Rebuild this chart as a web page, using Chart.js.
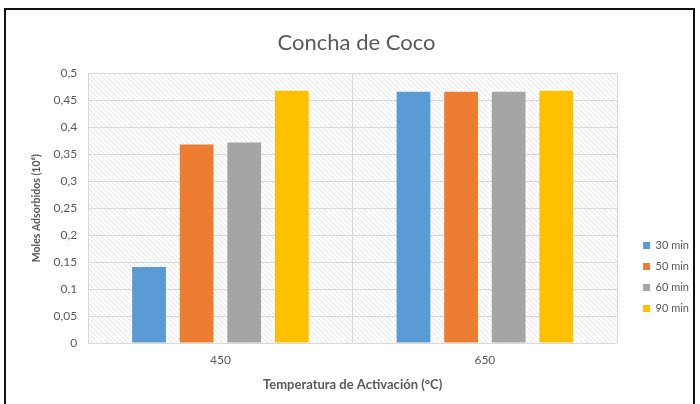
<!DOCTYPE html>
<html>
<head>
<meta charset="utf-8">
<script src="https://cdn.jsdelivr.net/npm/chart.js@4.4.1/dist/chart.umd.min.js"></script>
<style>
  html, body { margin: 0; padding: 0; background: #fff; }
  #wrap { position: relative; width: 700px; height: 404px; }
</style>
</head>
<body>
<div id="wrap"><canvas id="chartConcha" width="700" height="404"></canvas></div>
<script>
// data
var temperaturas = ["450", "650"];
var tiempos = ["30 min", "50 min", "60 min", "90 min"];
var moles30 = [0.141, 0.466];
var moles50 = [0.368, 0.466];
var moles60 = [0.372, 0.466];
var moles90 = [0.468, 0.468];
var colores = ["#5B9BD5", "#ED7D31", "#A5A5A5", "#FFC000"];

var gris = "#595959";
var fuente = "Lato, 'Open Sans', sans-serif";

// light diagonal hatch like the Excel plot area
function hatchPattern(ctx) {
    var c = document.createElement("canvas");
    c.width = 5; c.height = 5;
    var p = c.getContext("2d");
    p.fillStyle = "#ffffff";
    p.fillRect(0, 0, 5, 5);
    p.strokeStyle = "#e6e6e6";
    p.lineWidth = 1;
    p.beginPath();
    p.moveTo(0, 0); p.lineTo(5, 5);
    p.moveTo(-1, 4); p.lineTo(1, 6);
    p.moveTo(4, -1); p.lineTo(6, 1);
    p.stroke();
    return ctx.createPattern(c, "repeat");
}

var fondoPlugin = {
    id: "fondo",
    afterLayout: function (chart) {
        // legend sits lower and a bit away from the plot, like the original
        var lg = chart.legend;
        lg.left += 16; lg.right += 16;
        lg.top += 75; lg.bottom += 75;
    },
    beforeDraw: function (chart) {
        var ctx = chart.ctx, a = chart.chartArea;
        ctx.save();
        ctx.fillStyle = "#ffffff";
        ctx.fillRect(0, 0, chart.width, chart.height);
        ctx.strokeStyle = "#111111";
        ctx.lineWidth = 2;
        ctx.strokeRect(5, 9, 689, 410);
        ctx.fillStyle = hatchPattern(ctx);
        ctx.fillRect(a.left, a.top, a.right - a.left, a.bottom - a.top);
        ctx.restore();
    }
};

var series = [moles30, moles50, moles60, moles90];
var datasets = tiempos.map(function (t, i) {
    return {
        label: t,
        data: series[i],
        backgroundColor: colores[i],
        borderWidth: 0,
        categoryPercentage: 0.72,
        barPercentage: 0.71
    };
});

var ctx = document.getElementById("chartConcha").getContext("2d");
var chart = new Chart(ctx, {
    type: "bar",
    data: { labels: temperaturas, datasets: datasets },
    plugins: [fondoPlugin],
    options: {
        responsive: false,
        animation: false,
        layout: { padding: { left: 30, right: 17, top: 11, bottom: 11 } },
        plugins: {
            title: {
                display: true,
                text: "Concha de Coco",
                color: gris,
                font: { family: fuente, size: 22, weight: "normal" },
                padding: { top: 19, bottom: 17 }
            },
            legend: {
                position: "right",
                labels: {
                    color: gris,
                    font: { family: fuente, size: 11 },
                    boxWidth: 7,
                    boxHeight: 7,
                    padding: 10
                }
            },
            tooltip: { enabled: false }
        },
        scales: {
            x: {
                grid: { offset: true, color: "#d9d9d9", drawTicks: false },
                border: { display: false },
                ticks: { color: gris, font: { family: fuente, size: 12 }, padding: 10 },
                title: {
                    display: true,
                    text: "Temperatura de Activación (°C)",
                    color: gris,
                    font: { family: fuente, size: 13, weight: "bold" },
                    padding: { top: 0, bottom: 0 }
                }
            },
            y: {
                min: 0,
                max: 0.5,
                grid: { color: "#d9d9d9", drawTicks: false },
                border: { display: false },
                ticks: {
                    stepSize: 0.05,
                    color: gris,
                    font: { family: fuente, size: 12 },
                    padding: 11,
                    callback: function (v) {
                        return String(Math.round(v * 100) / 100).replace(".", ",");
                    }
                },
                title: {
                    display: true,
                    text: "Moles Adsorbidos (10⁶)",
                    color: gris,
                    font: { family: fuente, size: 10.5, weight: "bold" },
                    padding: { top: 0, bottom: 0 }
                }
            }
        }
    }
});
</script>
</body>
</html>
